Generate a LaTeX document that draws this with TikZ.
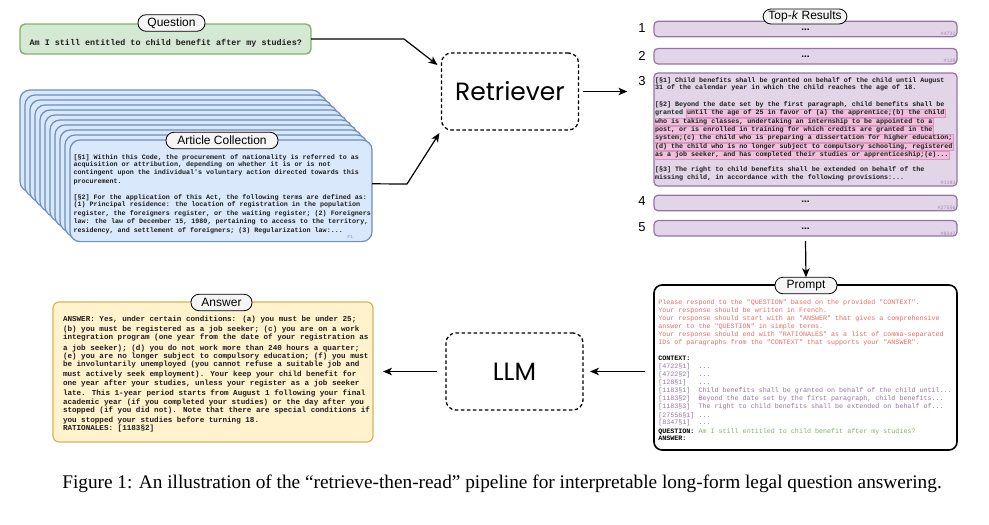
\documentclass[tikz,border=0pt]{standalone}
\usepackage{fontspec}
\setmainfont{Liberation Serif}
\setsansfont{Liberation Sans}
\newfontfamily\monof{Liberation Mono}
\newfontfamily\retfont{Poppins}
\usetikzlibrary{arrows.meta}
\definecolor{qfill}{RGB}{213,232,212}
\definecolor{qdraw}{RGB}{130,179,102}
\definecolor{afill}{RGB}{218,232,252}
\definecolor{adraw}{RGB}{108,142,191}
\definecolor{tfill}{RGB}{225,213,231}
\definecolor{tdraw}{RGB}{150,115,166}
\definecolor{yfill}{RGB}{255,242,204}
\definecolor{ydraw}{RGB}{214,182,86}
\definecolor{pillfill}{RGB}{245,245,245}
\definecolor{hlfill}{RGB}{238,192,220}
\definecolor{hldraw}{RGB}{214,150,192}
\definecolor{ptred}{RGB}{234,107,102}
\definecolor{ptgreen}{RGB}{130,179,102}
\definecolor{ptpurple}{RGB}{150,115,166}
\definecolor{textdark}{RGB}{30,30,30}
\begin{document}
\begin{tikzpicture}[x=1pt,y=-1pt,
  every node/.style={inner sep=0pt, outer sep=0pt},
  arr/.style={line width=1.2pt, -{Stealth[length=9pt,width=7.5pt,inset=2.5pt]}},
  pill/.style={draw=black, line width=0.8pt, fill=pillfill, rounded corners=8pt,
    minimum height=16.5pt, font=\sffamily\fontsize{12}{14}\selectfont},
  ml/.style={anchor=west, text=textdark, font=\monof\bfseries\fontsize{6.7}{8}\selectfont,
    text height=4.7pt, text depth=1.4pt},
  al/.style={ml, font=\monof\bfseries\fontsize{7.6}{9}\selectfont, text height=5.2pt, text depth=1.6pt},
  pl/.style={ml, font=\monof\fontsize{6.7}{8}\selectfont},
  hl/.style={fill=hlfill, draw=hldraw, line width=0.4pt, inner xsep=0.8pt, inner ysep=0.9pt},
  artbox/.style={draw=adraw, fill=afill, line width=1.2pt, rounded corners=10pt,
    minimum width=302pt, minimum height=101.6pt},
  tbox/.style={draw=tdraw, fill=tfill, line width=1.2pt, rounded corners=4pt,
    minimum width=303pt, minimum height=15.5pt},
  dots/.style={anchor=base, font=\sffamily\bfseries\fontsize{10}{10}\selectfont},
  idlab/.style={anchor=south east, font=\monof\fontsize{5}{5}\selectfont, text=tdraw!85},
  num/.style={font=\sffamily\fontsize{13}{14}\selectfont},
  proc/.style={draw=black, dash pattern=on 3.5pt off 2.5pt, line width=1.3pt, rounded corners=10pt,
    minimum width=137pt, minimum height=77pt, font=\retfont\fontsize{25}{28}\selectfont}
]
\useasboundingbox (0,0) rectangle (989,525);

% ---------------- Question ----------------
\node[draw=qdraw, fill=qfill, line width=1.4pt, rounded corners=5pt,
  minimum width=291pt, minimum height=30pt] (q) at (165.5,39) {};
\node[text=textdark, font=\monof\bfseries\fontsize{8.4}{10}\selectfont] (qt) at (165.8,43)
  {Am I still entitled to child benefit after my studies?};
\node[pill, minimum width=67pt] (qp) at (171.5,23) {Question};

% ---------------- Article collection ----------------
\foreach \i in {0,...,10} {
  \node[artbox] (art\i) at ({171+5*\i},{140.8+5*\i}) {};
}
\node[pill, minimum width=112pt] (ap) at (222,140.5) {Article Collection};
\foreach \yy/\mytext [count=\i] in {
  158.3/{[§1] Within this Code, the procurement of nationality is referred to as},
  165/{acquisition or attribution, depending on whether it is or is not},
  173.3/{contingent upon the individual's voluntary action directed towards this},
  181.7/{procurement.},
  198.3/{[§2] For the application of this Act, the following terms are defined as:},
  205/{(1) Principal residence: the location of registration in the population},
  214/{register, the foreigners register, or the waiting register; (2) Foreigners},
  222.3/{law: the law of December 15, 1980, pertaining to access to the territory,},
  230.7/{residency, and settlement of foreigners; (3) Regularization law:...}} {
  \node[ml] (atl\i) at (73.5,\yy) {\mytext};
}
\node[anchor=south east, font=\monof\fontsize{5}{5}\selectfont, text=adraw!85] (aid) at (353,238) {\#1};

% ---------------- Retriever / LLM ----------------
\node[proc] (ret) at (510,91.5) {Retriever};
\node[proc] (llm) at (514.5,371.5) {LLM};

% ---------------- Top-k results ----------------
\node[tbox] (r1) at (805.5,29) {};
\node[tbox] (r2) at (805.5,56.2) {};
\node[tbox, minimum height=113pt] (r3) at (805.5,129.5) {};
\node[tbox] (r4) at (805.5,203) {};
\node[tbox] (r5) at (805.5,228.3) {};
\node[pill, minimum width=84pt, minimum height=15pt] (tp) at (805,16.5) {Top-\textit{k} Results};

\node[num] (n1) at (642,28.5) {1};
\node[num] (n2) at (642,55.5) {2};
\node[num] (n3) at (642,81) {3};
\node[num] (n4) at (642,201) {4};
\node[num] (n5) at (642,227.3) {5};

\node[dots] (d1) at (805.5,30.7) {...};
\node[dots] (d2) at (805.5,57.5) {...};
\node[dots] (d4) at (805.5,202) {...};
\node[dots] (d5) at (805.5,229) {...};

\node[idlab] (i1) at (955.5,35.8) {\#4722};
\node[idlab] (i2) at (955.5,63) {\#128};
\node[idlab] (i3) at (955.5,185) {\#1183};
\node[idlab] (i4) at (955.5,210) {\#27556};
\node[idlab] (i5) at (955.5,235.5) {\#8347};

\node[ml] (t31) at (655,80.7) {[§1] Child benefits shall be granted on behalf of the child until August};
\node[ml] (t32) at (655,88.3) {31 of the calendar year in which the child reaches the age of 18.};
\node[ml] (t33) at (655,105) {[§2] Beyond the date set by the first paragraph, child benefits shall be};
\node[ml] (t34) at (655,113.3) {granted};
\node[ml, hl] (h1) at (686.4,113.3) {until the age of 25 in favor of (a) the apprentice;(b) the child};
\node[ml, hl] (h2) at (654.2,121.7) {who is taking classes, undertaking an internship to be appointed to a};
\node[ml, hl] (h3) at (654.2,130) {post, or is enrolled in training for which credits are granted in the};
\node[ml, hl] (h4) at (654.2,138.3) {system;(c) the child who is preparing a dissertation for higher education;};
\node[ml, hl] (h5) at (654.2,146.7) {(d) the child who is no longer subject to compulsory schooling, registered};
\node[ml, hl] (h6) at (654.2,155) {as a job seeker, and has completed their studies or apprenticeship;(e)...};
\node[ml] (t35) at (655,170) {[§3] The right to child benefits shall be extended on behalf of the};
\node[ml] (t36) at (655,178.3) {missing child, in accordance with the following provisions:...};

% ---------------- Prompt ----------------
\node[draw=black, fill=white, line width=1.6pt, rounded corners=8pt,
  minimum width=303pt, minimum height=165pt] (pr) at (805.5,367.5) {};
\node[pill, minimum width=62pt] (pp) at (806,285.5) {Prompt};
\foreach \yy/\cc/\mytext [count=\i] in {
  303.3/ptred/{Please respond to the "QUESTION" based on the provided "CONTEXT".},
  311.3/ptred/{Your response should be written in French.},
  319.3/ptred/{Your response should start with an "ANSWER" that gives a comprehensive},
  327.3/ptred/{answer to the "QUESTION" in simple terms.},
  335.3/ptred/{Your response should end with "RATIONALES" as a list of comma-separated},
  343.3/ptred/{IDs of paragraphs from the "CONTEXT" that supports your "ANSWER".},
  367.3/ptpurple/{[4722§1]~~...},
  375.3/ptpurple/{[4722§2]~~...},
  383.3/ptpurple/{[128§1]~~~...},
  391.3/ptpurple/{[1183§1]~~Child benefits shall be granted on behalf of the child until...},
  399.3/ptpurple/{[1183§2]~~Beyond the date set by the first paragraph, child benefits...},
  407.3/ptpurple/{[1183§3]~~The right to child benefits shall be extended on behalf of...},
  415.5/ptpurple/{[27556§1]~...},
  423.3/ptpurple/{[8347§1]~~...}} {
  \node[pl, text=\cc] (pl\i) at (658.3,\yy) {\mytext};
}
\node[pl, text=black] (pc) at (658.3,359.3) {\textbf{CONTEXT:}};
\node[pl, text=black] (pq) at (658.3,431.5) {\textbf{QUESTION:}~\textcolor{ptgreen}{Am I still entitled to child benefit after my studies?}};
\node[pl, text=black] (pa) at (658.3,439.3) {\textbf{ANSWER:}};

% ---------------- Answer ----------------
\node[draw=ydraw, fill=yfill, line width=1.2pt, rounded corners=6pt,
  minimum width=320pt, minimum height=140pt] (ans) at (213,372) {};
\node[pill, minimum width=61pt] (ansp) at (221.5,302.5) {Answer};
\foreach \yy/\mytext [count=\i] in {
  319.3/{ANSWER: Yes, under certain conditions: (a) you must be under 25;},
  329.3/{(b) you must be registered as a job seeker; (c) you are on a work},
  337.3/{integration program (one year from the date of your registration as},
  348.3/{a job seeker); (d) you do not work more than 240 hours a quarter;},
  356.7/{(e) you are no longer subject to compulsory education; (f) you must},
  365/{be involuntarily unemployed (you cannot refuse a suitable job and},
  374.3/{must actively seek employment). Your keep your child benefit for},
  384/{one year after your studies, unless your register as a job seeker},
  393.7/{late. This 1-year period starts from August 1 following your final},
  402.3/{academic year (if you completed your studies) or the day after you},
  411/{stopped (if you did not). Note that there are special conditions if},
  420.7/{you stopped your studies before turning 18.},
  429/{RATIONALES: [1183§2]}} {
  \node[al] (an\i) at (63,\yy) {\mytext};
}

% ---------------- Connectors ----------------
\coordinate (jq) at (404,39);
\coordinate (ja) at (407,184);
\draw[arr] (q.east) -- (jq) -- ([shift={(-4,12)}]ret.north west);
\draw[arr] ([shift={(0,-7)}]art10.east) -- (ja) -- ([shift={(-2,3)}]ret.south west);
\draw[arr] ([xshift=4pt]ret.east) -- ([xshift=-11pt]ret.east -| n3.west);
\draw[arr] ([yshift=-5pt]r5.south) -- (pp.north);
\coordinate (pin) at (pr.west |- llm.east);
\draw[arr] ([xshift=-9pt]pin) -- ([xshift=7pt]llm.east);
\coordinate (aout) at (ans.east |- llm.west);
\draw[arr] ([xshift=-9pt]llm.west) -- ([xshift=10pt]aout);

% ---------------- Caption ----------------
\node[font=\rmfamily\fontsize{19.3}{22}\selectfont] (cap) at (502,484)
  {Figure 1: An illustration of the ``retrieve-then-read'' pipeline for interpretable long-form legal question answering.};
\end{tikzpicture}
\end{document}
